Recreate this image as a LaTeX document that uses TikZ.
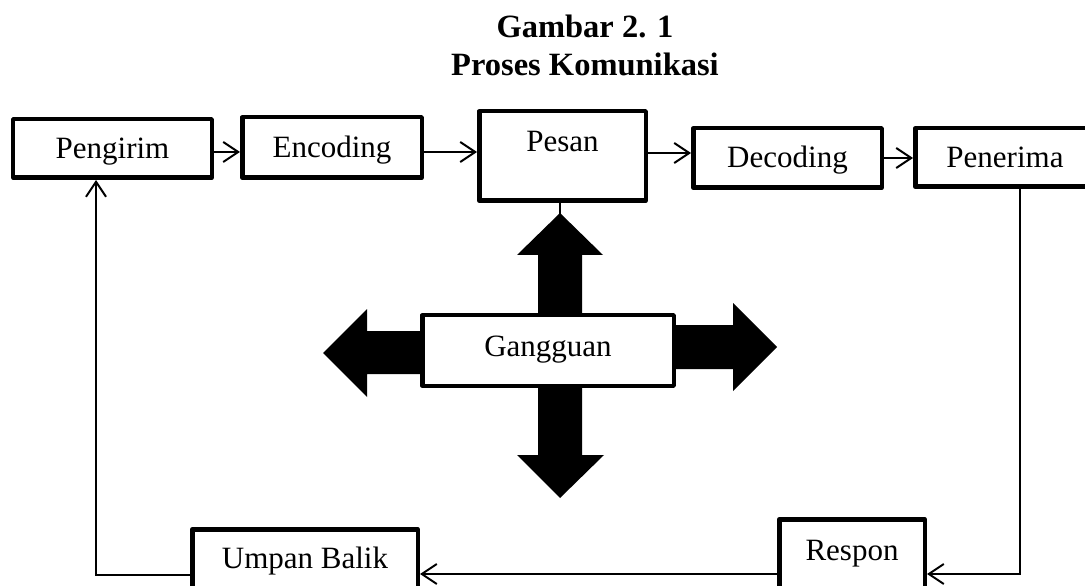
\documentclass[tikz,border=0pt]{standalone}
\usepackage{fontspec}
\setmainfont{Liberation Serif}
\usetikzlibrary{arrows.meta}
\begin{document}
\begin{tikzpicture}[x=1bp,y=-1bp,
  box/.style={draw, line width=4.5bp, line join=round, fill=white, inner sep=0pt, text height=21bp, font=\fontsize{31bp}{37bp}\selectfont},
  conn/.style={line width=2bp, -{Straight Barb[length=15bp,width=20bp]}},
  stem/.style={line width=1.5bp},
  blk/.style={fill=black},
  ttl/.style={font=\bfseries\fontsize{32.5bp}{38bp}\selectfont, anchor=base, inner sep=0pt}]
\useasboundingbox (0,0) rectangle (1085,586);
\clip (0,0) rectangle (1085,586);
% title
\node[ttl] (t1) at (585,38) {Gambar 2. 1};
\node[ttl] (t2) at (585,76) {Proses Komunikasi};
% top row
\node[box, minimum width=198.5bp, minimum height=58.5bp, text depth=0bp] (peng) at (112.5,148.5) {Pengirim};
\node[box, minimum width=179.5bp, minimum height=60.5bp, text depth=0bp] (enc) at (332,147.5) {Encoding};
\node[box, minimum width=166.5bp, minimum height=89.5bp, text depth=29bp] (pesan) at (562.5,156) {Pesan};
\node[box, minimum width=188.5bp, minimum height=59.5bp, text depth=1bp] (dec) at (787.5,158) {Decoding};
\node[box, minimum width=179.5bp, minimum height=58.5bp, text depth=0bp] (pen) at (1005,157.5) {Penerima};
% bottom row
\node[box, minimum width=225.5bp, minimum height=73.5bp, text depth=17bp] (ump) at (305,566) {Umpan Balik};
\node[box, minimum width=145.5bp, minimum height=83.5bp, text depth=23bp] (resp) at (852,561) {Respon};
% block arrows
\fill[blk] (538,320) -- (538,255) -- (517,255) -- (560,213) -- (603,255) -- (582,255) -- (582,320) -- cycle;
\fill[blk] (430,331) -- (367,331) -- (367,309) -- (323,353) -- (367,397) -- (367,374) -- (430,374) -- cycle;
\fill[blk] (668,325) -- (733,325) -- (733,303) -- (777,347) -- (733,391) -- (733,369) -- (668,369) -- cycle;
\fill[blk] (538,380) -- (538,455) -- (517,455) -- (560,498) -- (604,455) -- (582,455) -- (582,380) -- cycle;
\node[box, minimum width=251.5bp, minimum height=70.5bp, text depth=10bp] (gang) at (548,350.5) {Gangguan};
% helper coordinates
\coordinate (yA) at (0,152);
\coordinate (yB) at (0,153);
\coordinate (xP) at (560,214);
\coordinate (r1) at (1020,574);
\coordinate (l1) at (96,575);
% connectors
\draw[stem] (pesan.south -| xP) -- (xP);
\draw[conn] (peng.east |- yA) -- (enc.west |- yA);
\draw[conn] (enc.east |- yA) -- (pesan.west |- yA);
\draw[conn] (pesan.east |- yB) -- (dec.west |- yB);
\draw[conn] (dec.east) -- (pen.west |- dec.east);
\draw[conn] (pen.south -| r1) -- (r1) -- (resp.east |- r1);
\draw[conn] (resp.west |- r1) -- (ump.east |- r1);
\draw[conn] (ump.west |- l1) -- (l1) -- (peng.south -| l1);
\end{tikzpicture}
\end{document}
